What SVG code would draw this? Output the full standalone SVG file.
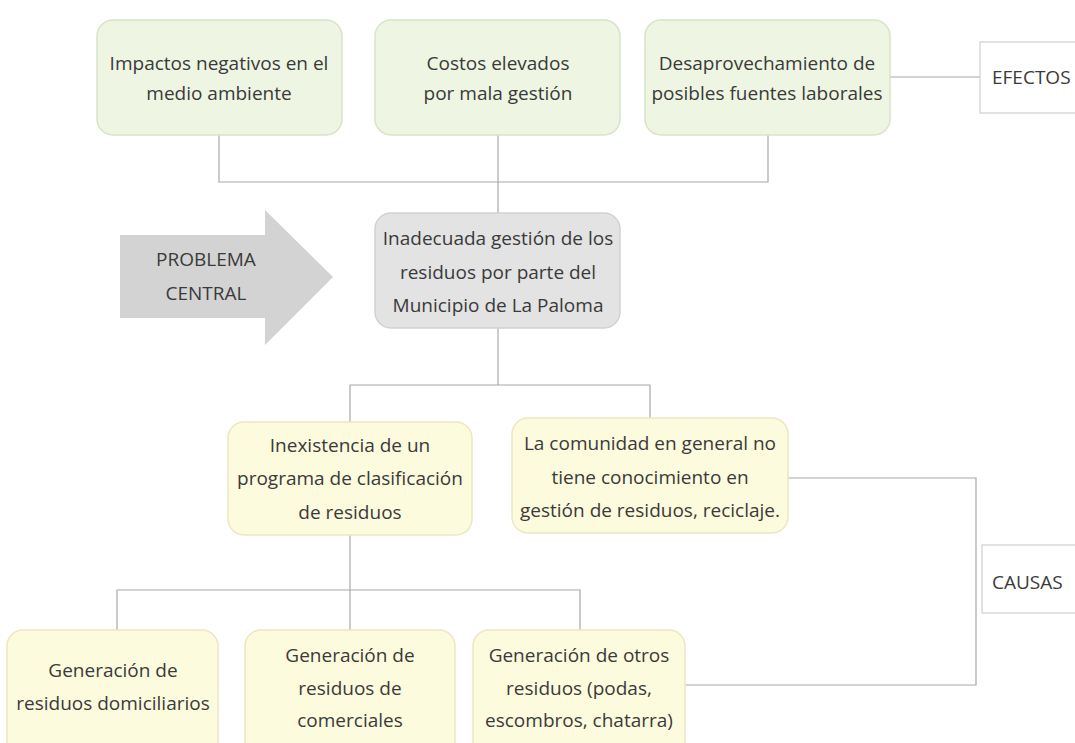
<svg xmlns="http://www.w3.org/2000/svg" width="1075" height="743" viewBox="0 0 1075 743">
<style>
.t{font-family:"Open Sans","Liberation Sans",sans-serif;font-size:19px;fill:#3a3a3a;text-anchor:middle}
.s{text-anchor:start}
.g{fill:#eef5e2;stroke:#d8e4c8;stroke-width:1.5}
.y{fill:#fdfbdd;stroke:#ebe7c2;stroke-width:1.5}
.c{fill:#e3e3e3;stroke:#d2d2d2;stroke-width:1.5}
.w{fill:#fff;stroke:#cfcfcf;stroke-width:1.2}
.l{fill:none;stroke:#a8a8a8;stroke-width:1.2}
</style>
<rect width="1075" height="743" fill="#fff"/>
<g id="connectors">
<path class="l" d="M219 135V182H768V135"/>
<path class="l" d="M498 135V213"/>
<path class="l" d="M890 77H980"/>
<path class="l" d="M498 328V385"/>
<path class="l" d="M350 422V385H650V418"/>
<path class="l" d="M350 535V590"/>
<path class="l" d="M117 630V590H580V630"/>
<path class="l" d="M350 590V630"/>
<path class="l" d="M788 478H976V685H685"/>
<path class="l" d="M982 582H986L989 578H993"/>
</g>
<g id="efecto1"><rect class="g" x="97" y="20" width="245" height="115" rx="16"/><text class="t" x="219" y="70">Impactos negativos en el</text><text class="t" x="219" y="100">medio ambiente</text></g>
<g id="efecto2"><rect class="g" x="375" y="20" width="245" height="115" rx="16"/><text class="t" x="498" y="70">Costos elevados</text><text class="t" x="498" y="100">por mala gestión</text></g>
<g id="efecto3"><rect class="g" x="645" y="20" width="245" height="115" rx="16"/><text class="t" x="767" y="70">Desaprovechamiento de</text><text class="t" x="767" y="100">posibles fuentes laborales</text></g>
<g id="efectos"><rect class="w" x="980" y="42" width="110" height="71"/><text class="t s" x="992" y="84">EFECTOS</text></g>
<g id="problema-flecha"><path d="M120 235H265V210L333 277L265 345V318H120Z" fill="#d3d3d3"/><text class="t" x="206" y="266">PROBLEMA</text><text class="t" x="206" y="300">CENTRAL</text></g>
<g id="problema"><rect class="c" x="375" y="213" width="245" height="115" rx="16"/><text class="t" x="498" y="245">Inadecuada gestión de los</text><text class="t" x="498" y="279">residuos por parte del</text><text class="t" x="498" y="312">Municipio de La Paloma</text></g>
<g id="causa1"><rect class="y" x="228" y="422" width="244" height="113" rx="16"/><text class="t" x="350" y="452">Inexistencia de un</text><text class="t" x="350" y="485">programa de clasificación</text><text class="t" x="350" y="519">de residuos</text></g>
<g id="causa2"><rect class="y" x="512" y="418" width="276" height="115" rx="16"/><text class="t" x="650" y="450">La comunidad en general no</text><text class="t" x="650" y="484">tiene conocimiento en</text><text class="t" x="650" y="517">gestión de residuos, reciclaje.</text></g>
<g id="causas"><rect class="w" x="982" y="545" width="110" height="68"/><text class="t s" x="992" y="589">CAUSAS</text></g>
<g id="sub1"><rect class="y" x="7" y="630" width="211" height="130" rx="16"/><text class="t" x="113" y="677">Generación de</text><text class="t" x="113" y="710">residuos domiciliarios</text></g>
<g id="sub2"><rect class="y" x="245" y="630" width="210" height="130" rx="16"/><text class="t" x="350" y="662">Generación de</text><text class="t" x="350" y="695">residuos de</text><text class="t" x="350" y="727">comerciales</text></g>
<g id="sub3"><rect class="y" x="473" y="630" width="212" height="130" rx="16"/><text class="t" x="579" y="662">Generación de otros</text><text class="t" x="579" y="695">residuos (podas,</text><text class="t" x="579" y="727">escombros, chatarra)</text></g>
</svg>
